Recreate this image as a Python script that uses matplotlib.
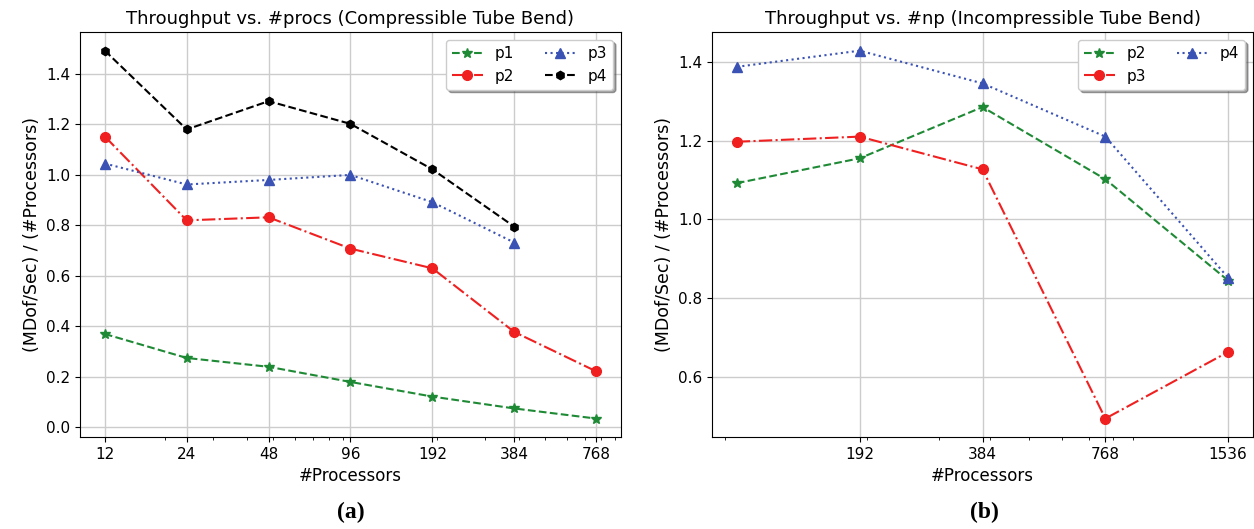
import matplotlib.pyplot as plt
from matplotlib.ticker import NullFormatter

# Data: (a) compressible tube bend
procs_a = [12, 24, 48, 96, 192, 384, 768]
p1_a = [0.37, 0.275, 0.24, 0.18, 0.122, 0.075, 0.035]
p2_a = [1.152, 0.82, 0.832, 0.708, 0.63, 0.378, 0.222]
p3_a = [1.045, 0.962, 0.98, 1.0, 0.892, 0.732]
p4_a = [1.492, 1.18, 1.292, 1.202, 1.022, 0.795]

# Data: (b) incompressible tube bend
procs_b = [96, 192, 384, 768, 1536]
ticks_b = [192, 384, 768, 1536]
p2_b = [1.092, 1.155, 1.285, 1.102, 0.845]
p3_b = [1.197, 1.21, 1.127, 0.495, 0.664]
p4_b = [1.387, 1.428, 1.345, 1.21, 0.852]

GREEN = '#1f8a35'
RED = '#f02020'
BLUE = '#3a52b4'
BLACK = 'black'

fig = plt.figure(figsize=(12.54, 5.29), dpi=100)
ax1 = fig.add_axes([0.064, 0.174, 0.431, 0.765])
ax2 = fig.add_axes([0.568, 0.174, 0.431, 0.765])

ax1.plot(procs_a, p1_a, '--', marker='*', color=GREEN, ms=7, lw=1.5, label='p1')
ax1.plot(procs_a, p2_a, '-.', marker='o', color=RED, ms=7, lw=1.5, label='p2')
ax1.plot(procs_a[:6], p3_a, ':', marker='^', color=BLUE, ms=7, lw=1.5, label='p3')
ax1.plot(procs_a[:6], p4_a, '--', marker='h', color=BLACK, ms=6, lw=1.5, label='p4')
ax1.set_xscale('log')
ax1.set_xticks(procs_a)
ax1.set_xticklabels([str(p) for p in procs_a])
ax1.set_title('Throughput vs. #procs (Compressible Tube Bend)', fontsize=13)

ax2.plot(procs_b, p2_b, '--', marker='*', color=GREEN, ms=7, lw=1.5, label='p2')
ax2.plot(procs_b, p3_b, '-.', marker='o', color=RED, ms=7, lw=1.5, label='p3')
ax2.plot(procs_b, p4_b, ':', marker='^', color=BLUE, ms=7, lw=1.5, label='p4')
ax2.set_xscale('log')
ax2.set_xticks(ticks_b)
ax2.set_xticklabels([str(p) for p in ticks_b])
ax2.set_yticks([0.6, 0.8, 1.0, 1.2, 1.4])
ax2.set_title('Throughput vs. #np (Incompressible Tube Bend)', fontsize=13)

for ax in (ax1, ax2):
    ax.xaxis.set_minor_formatter(NullFormatter())
    ax.set_xlabel('#Processors', fontsize=12)
    ax.set_ylabel('(MDof/Sec) / (#Processors)', fontsize=12.5)
    ax.tick_params(labelsize=11)
    ax.grid(True, color='#cccccc', linewidth=1)
    ax.legend(ncol=2, loc='upper right', shadow=True, fontsize=11)

fig.text(0.28, 0.02, '(a)', ha='center', fontsize=17, fontweight='bold', family='Liberation Serif')
fig.text(0.785, 0.02, '(b)', ha='center', fontsize=17, fontweight='bold', family='Liberation Serif')

fig.savefig('out.png', dpi=100)
